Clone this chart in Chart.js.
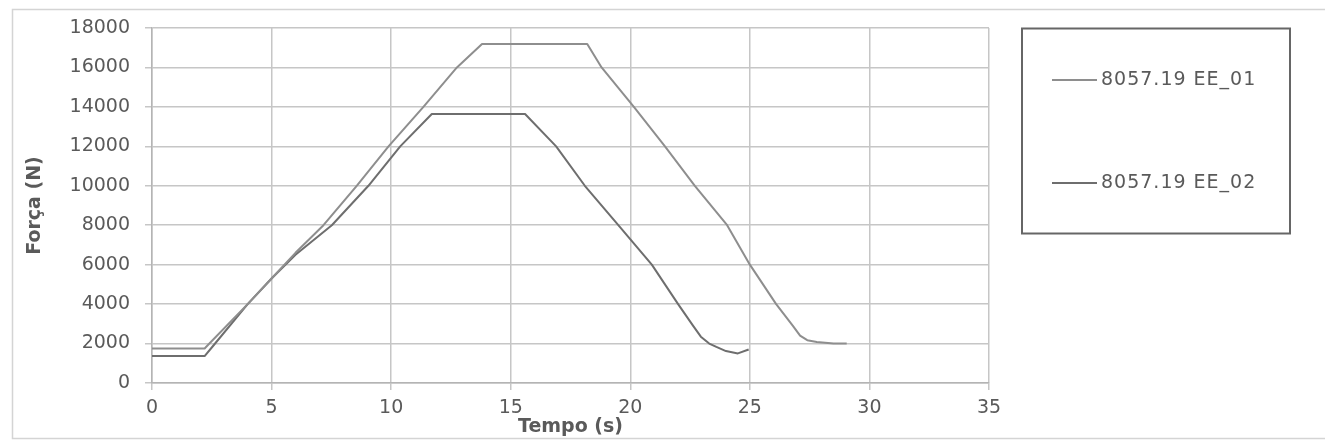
<!DOCTYPE html>
<html>
<head>
<meta charset="utf-8">
<script src="https://cdn.jsdelivr.net/npm/chart.js@4/dist/chart.umd.min.js"></script>
<style>
  html, body { margin: 0; padding: 0; background: #ffffff; }
  #wrap { width: 1325px; height: 442px; position: relative; }
</style>
</head>
<body>
<div id="wrap"><canvas id="c"></canvas></div>
<script>
// ---- Data ----
const seriesNames = ['8057.19 EE_01', '8057.19 EE_02'];

const ee01Time  = [0, 2.2, 2.4, 4.0, 5.0, 6.0, 7.17, 8.56, 9.89, 11.35, 12.75, 13.8, 18.2, 18.8, 20.15, 21.45, 22.7, 24.05, 25.0, 26.1, 26.8, 27.1, 27.4, 27.8, 28.5, 29.05];
const ee01Force = [1750, 1750, 2000, 4000, 5300, 6600, 8000, 10000, 12000, 14000, 16000, 17190, 17190, 16000, 14000, 12000, 10000, 8000, 6000, 4000, 2900, 2400, 2170, 2080, 2000, 2000];

const ee02Time  = [0, 2.2, 2.5, 4.0, 5.0, 6.0, 7.52, 9.05, 10.38, 11.7, 15.6, 16.9, 18.1, 19.5, 20.9, 22.0, 22.6, 22.95, 23.3, 23.6, 24.0, 24.5, 24.95];
const ee02Force = [1365, 1365, 1800, 4000, 5300, 6500, 8000, 10000, 12000, 13640, 13640, 12000, 10000, 8000, 6000, 4000, 2950, 2350, 2000, 1830, 1620, 1500, 1700];

const xTickStep = 5, xMin = 0, xMax = 35;
const yTickStep = 2000, yMin = 0, yMax = 18000;

const xTitle = 'Tempo (s)';
const yTitle = 'Força (N)';

// ---- Build ----
function toPoints(xs, ys) { return xs.map((x, i) => ({ x: x, y: ys[i] })); }

const textColor = '#5a5a5a';
const gridColor = '#c6c6c6';
const fontFamily = '"DejaVu Sans", Verdana, sans-serif';

const frameAndLegend = {
  id: 'frameAndLegend',
  beforeDraw(chart) {
    const ctx = chart.ctx;
    ctx.save();
    ctx.fillStyle = '#ffffff';
    ctx.fillRect(0, 0, chart.width, chart.height);
    ctx.strokeStyle = '#d4d4d4';
    ctx.lineWidth = 1.5;
    ctx.strokeRect(12.5, 9.5, chart.width + 10, 429);
    ctx.restore();
  },
  afterDraw(chart) {
    const ctx = chart.ctx;
    ctx.save();
    // legend box
    ctx.strokeStyle = '#666666';
    ctx.lineWidth = 2;
    ctx.strokeRect(1022, 28.5, 268, 205);
    const rowsY = [80, 183];
    ctx.font = '19px ' + fontFamily;
    if ('letterSpacing' in ctx) ctx.letterSpacing = '1px';
    ctx.textBaseline = 'middle';
    ctx.textAlign = 'left';
    chart.data.datasets.forEach((ds, i) => {
      const y = rowsY[i];
      ctx.strokeStyle = ds.borderColor;
      ctx.lineWidth = 2;
      ctx.beginPath();
      ctx.moveTo(1052, y);
      ctx.lineTo(1097, y);
      ctx.stroke();
      ctx.fillStyle = textColor;
      ctx.fillText(ds.label, 1101, y);
    });
    ctx.restore();
  }
};

new Chart(document.getElementById('c'), {
  type: 'scatter',
  data: {
    datasets: [
      {
        label: seriesNames[0],
        data: toPoints(ee01Time, ee01Force),
        showLine: true,
        borderColor: '#8e8e8e',
        borderWidth: 2,
        pointRadius: 0,
        tension: 0,
        borderJoinStyle: 'round',
        fill: false
      },
      {
        label: seriesNames[1],
        data: toPoints(ee02Time, ee02Force),
        showLine: true,
        borderColor: '#6e6e6e',
        borderWidth: 2,
        pointRadius: 0,
        tension: 0,
        borderJoinStyle: 'round',
        fill: false
      }
    ]
  },
  options: {
    responsive: true,
    maintainAspectRatio: false,
    animation: false,
    layout: { padding: { left: 20, right: 336, top: 28, bottom: 0 } },
    plugins: {
      legend: { display: false },
      tooltip: { enabled: false }
    },
    scales: {
      x: {
        type: 'linear',
        min: xMin, max: xMax,
        ticks: {
          stepSize: xTickStep,
          color: textColor,
          padding: 7,
          font: { family: fontFamily, size: 19 }
        },
        grid: { color: gridColor, lineWidth: 1.5, tickLength: 7, drawTicks: true },
        border: { color: '#b4b4b4', width: 1.5 },
        title: {
          display: true,
          text: xTitle,
          color: textColor,
          padding: { top: 0, bottom: 4 },
          font: { family: fontFamily, size: 19, weight: 'bold' }
        },
        afterFit(scale) { scale.height = 59; }
      },
      y: {
        type: 'linear',
        min: yMin, max: yMax,
        ticks: {
          stepSize: yTickStep,
          color: textColor,
          padding: 15,
          font: { family: fontFamily, size: 19 },
          callback: (v) => String(v)
        },
        grid: { color: gridColor, lineWidth: 1.5, tickLength: 7, drawTicks: true },
        border: { color: '#b4b4b4', width: 1.5 },
        title: {
          display: true,
          text: yTitle,
          color: textColor,
          padding: { top: 4, bottom: 4 },
          font: { family: fontFamily, size: 19, weight: 'bold' }
        },
        afterFit(scale) { scale.width = 132; }
      }
    }
  },
  plugins: [frameAndLegend]
});
</script>
</body>
</html>
